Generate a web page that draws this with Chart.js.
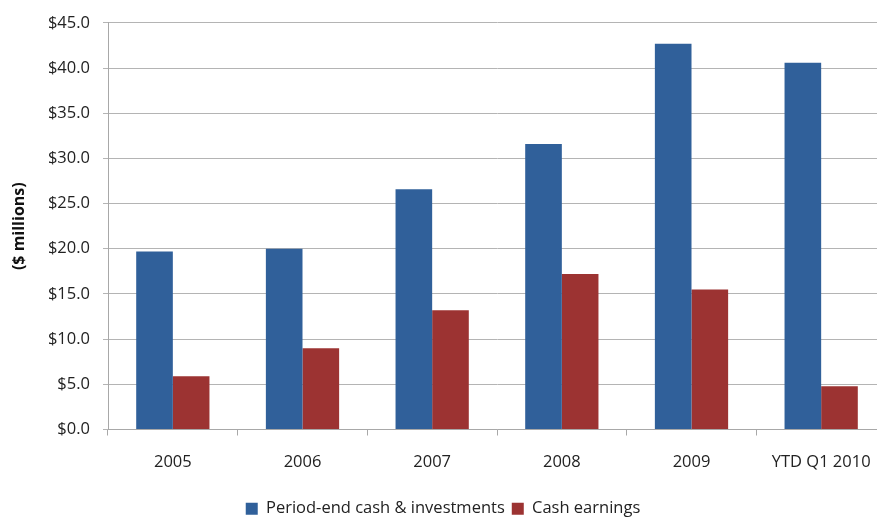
<!DOCTYPE html>
<html>
<head>
<meta charset="utf-8">
<script src="https://cdn.jsdelivr.net/npm/chart.js@4/dist/chart.umd.min.js"></script>
<style>
  html, body { margin: 0; padding: 0; background: #fff; overflow: hidden; }
  #wrap { width: 890px; height: 527px; position: relative; }
</style>
</head>
<body>
<div id="wrap"><canvas id="myChart"></canvas></div>
<script>
// values ($ millions)
const categories = ['2005', '2006', '2007', '2008', '2009', 'YTD Q1 2010'];
const cashInvestments = [19.7, 20.0, 26.6, 31.6, 42.7, 40.6];
const cashEarnings = [5.9, 9.0, 13.2, 17.2, 15.5, 4.8];

const FONT = '"Open Sans", "Liberation Sans", sans-serif';
const ctx = document.getElementById('myChart').getContext('2d');

const myChart = new Chart(ctx, {
  type: 'bar',
  data: {
    labels: categories,
    datasets: [
      {
        label: 'Period-end cash & investments',
        data: cashInvestments,
        backgroundColor: '#30609a',
        borderWidth: 0,
      },
      {
        label: 'Cash earnings',
        data: cashEarnings,
        backgroundColor: '#9c3332',
        borderWidth: 0,
      },
    ],
  },
  options: {
    responsive: true,
    maintainAspectRatio: false,
    animation: false,
    layout: { padding: { top: 16, right: 4, left: 0, bottom: 0 } },
    datasets: {
      bar: { categoryPercentage: 0.565, barPercentage: 1.0 },
    },
    plugins: {
      tooltip: { enabled: false },
      legend: {
        position: 'bottom',
        labels: {
          boxWidth: 12,
          boxHeight: 12,
          padding: 7,
          color: '#222',
          font: { family: FONT, size: 16.5 },
        },
      },
    },
    scales: {
      x: {
        grid: {
          offset: true,
          drawOnChartArea: false,
          drawTicks: true,
          tickLength: 6,
          color: '#a8a8a8',
        },
        border: { color: '#a8a8a8', width: 1 },
        ticks: {
          color: '#222',
          padding: 17,
          font: { family: FONT, size: 16.5 },
        },
        afterFit: (scale) => { scale.height = 64; },
      },
      y: {
        min: 0,
        max: 45,
        ticks: {
          stepSize: 5,
          padding: 13,
          color: '#222',
          font: { family: FONT, size: 16.5 },
          callback: (v) => '$' + Number(v).toFixed(1),
        },
        grid: { color: '#b4b4b4', lineWidth: 1, tickLength: 5 },
        border: { color: '#a8a8a8', width: 1 },
        title: {
          display: true,
          text: '($ millions)',
          color: '#111',
          padding: { top: 10, bottom: 0 },
          font: { family: FONT, size: 16, weight: 'bold' },
        },
        afterFit: (scale) => { scale.width = 108; },
      },
    },
  },
});
</script>
</body>
</html>
